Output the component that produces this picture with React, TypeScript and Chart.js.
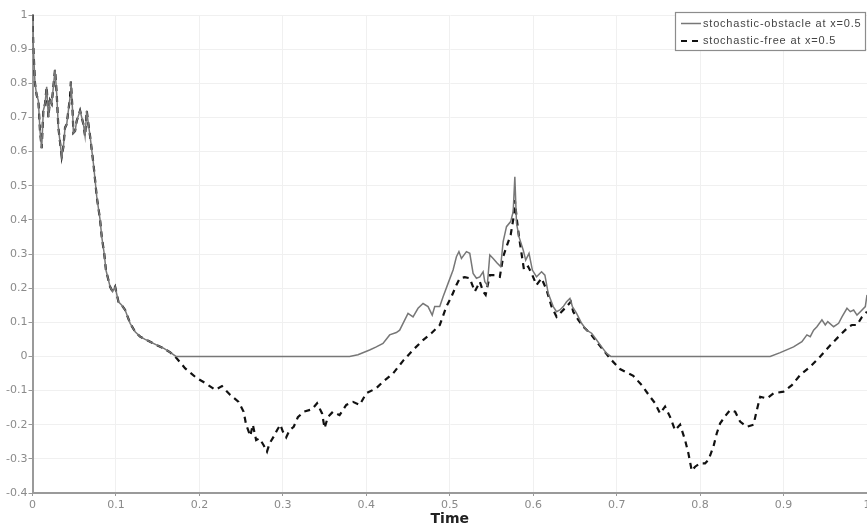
import React, { useEffect, useRef } from "react";
import { Chart, registerables } from "chart.js";

Chart.register(...registerables);

// Shared early part (both series coincide)
const sharedTime = [
  0, 0.001, 0.003, 0.005, 0.007, 0.009, 0.011, 0.013, 0.015, 0.017, 0.019, 0.021, 0.023, 0.025, 0.027,
  0.029, 0.031, 0.035, 0.037, 0.039, 0.041, 0.043, 0.045, 0.046, 0.048, 0.049, 0.051, 0.053, 0.057,
  0.059, 0.061, 0.063, 0.065, 0.067, 0.069, 0.071, 0.073, 0.077, 0.081, 0.083, 0.086, 0.088, 0.093,
  0.096, 0.099, 0.103, 0.107, 0.111, 0.117, 0.123, 0.129, 0.135, 0.141, 0.149, 0.157, 0.165,
];
const sharedValue = [
  1.0, 0.907, 0.8, 0.765, 0.75, 0.66, 0.61, 0.72, 0.74, 0.79, 0.7, 0.75, 0.74, 0.79, 0.84,
  0.77, 0.67, 0.585, 0.614, 0.67, 0.68, 0.72, 0.76, 0.805, 0.72, 0.655, 0.66, 0.69, 0.72,
  0.7, 0.68, 0.645, 0.72, 0.68, 0.645, 0.605, 0.565, 0.468, 0.4, 0.35, 0.3, 0.253, 0.204,
  0.19, 0.204, 0.16, 0.15, 0.136, 0.097, 0.072, 0.058, 0.05, 0.043, 0.033, 0.024, 0.012,
];

// stochastic-obstacle after the shared part
const obstacleTime = [
  0.172, 0.38, 0.39, 0.404, 0.412, 0.42, 0.428, 0.436, 0.44, 0.45, 0.456, 0.462, 0.468, 0.474, 0.479,
  0.482, 0.488, 0.492, 0.498, 0.504, 0.508, 0.511, 0.514, 0.52, 0.524, 0.528, 0.532, 0.536, 0.54,
  0.542, 0.545, 0.548, 0.552, 0.557, 0.561, 0.564, 0.568, 0.573, 0.576, 0.578, 0.58, 0.583, 0.588,
  0.591, 0.595, 0.599, 0.604, 0.61, 0.614, 0.618, 0.624, 0.628, 0.632, 0.636, 0.64, 0.644, 0.647,
  0.652, 0.658, 0.664, 0.67, 0.676, 0.682, 0.688, 0.693, 0.884, 0.896, 0.912, 0.922, 0.928, 0.932,
  0.936, 0.94, 0.946, 0.95, 0.953, 0.96, 0.966, 0.97, 0.976, 0.98, 0.984, 0.988, 0.992, 0.998, 1.0,
];
const obstacleValue = [
  0, 0, 0.005, 0.019, 0.028, 0.038, 0.063, 0.07, 0.077, 0.126, 0.116, 0.141, 0.155, 0.146, 0.121,
  0.146, 0.146, 0.175, 0.214, 0.253, 0.292, 0.307, 0.287, 0.307, 0.302, 0.243, 0.229, 0.233, 0.248,
  0.219, 0.209, 0.297, 0.287, 0.273, 0.263, 0.336, 0.38, 0.395, 0.424, 0.526, 0.39, 0.35, 0.312,
  0.282, 0.302, 0.253, 0.233, 0.248, 0.238, 0.185, 0.146, 0.131, 0.136, 0.146, 0.16, 0.17, 0.146,
  0.126, 0.097, 0.077, 0.068, 0.048, 0.028, 0.009, 0, 0, 0.011, 0.028, 0.043, 0.063, 0.058,
  0.077, 0.087, 0.107, 0.092, 0.102, 0.087, 0.097, 0.116, 0.141, 0.131, 0.136, 0.121, 0.131, 0.146, 0.18,
];

// stochastic-free after the shared part
const freeTime = [
  0.173, 0.183, 0.197, 0.207, 0.219, 0.227, 0.237, 0.247, 0.253, 0.256, 0.261, 0.264, 0.268, 0.272,
  0.277, 0.281, 0.284, 0.289, 0.293, 0.297, 0.3, 0.304, 0.308, 0.313, 0.318, 0.325, 0.335, 0.341,
  0.347, 0.35, 0.354, 0.36, 0.368, 0.376, 0.384, 0.392, 0.4, 0.412, 0.42, 0.432, 0.444, 0.456, 0.468,
  0.478, 0.488, 0.496, 0.502, 0.508, 0.512, 0.518, 0.524, 0.53, 0.533, 0.536, 0.54, 0.543, 0.548,
  0.554, 0.56, 0.564, 0.568, 0.573, 0.576, 0.578, 0.58, 0.583, 0.586, 0.589, 0.594, 0.599, 0.604,
  0.61, 0.616, 0.622, 0.628, 0.634, 0.64, 0.645, 0.648, 0.654, 0.66, 0.668, 0.676, 0.684, 0.692,
  0.704, 0.72, 0.73, 0.74, 0.746, 0.752, 0.758, 0.764, 0.77, 0.776, 0.782, 0.786, 0.79, 0.794, 0.8,
  0.806, 0.81, 0.816, 0.82, 0.824, 0.831, 0.836, 0.842, 0.848, 0.856, 0.864, 0.868, 0.872, 0.88,
  0.888, 0.9, 0.91, 0.92, 0.932, 0.944, 0.956, 0.968, 0.978, 0.982, 0.988, 0.994, 1.0,
];
const freeValue = [
  -0.006, -0.035, -0.064, -0.078, -0.098, -0.087, -0.113, -0.133, -0.162, -0.2, -0.233, -0.2, -0.245, -0.24,
  -0.26, -0.279, -0.255, -0.235, -0.216, -0.2, -0.22, -0.237, -0.216, -0.206, -0.178, -0.162, -0.155, -0.137,
  -0.167, -0.21, -0.177, -0.162, -0.172, -0.142, -0.133, -0.142, -0.108, -0.093, -0.074, -0.05, -0.013, 0.019, 0.048,
  0.068, 0.092, 0.146, 0.175, 0.209, 0.229, 0.232, 0.229, 0.19, 0.204, 0.219, 0.19, 0.18, 0.238,
  0.238, 0.233, 0.292, 0.321, 0.356, 0.4, 0.458, 0.409, 0.35, 0.302, 0.253, 0.263, 0.238, 0.209,
  0.229, 0.195, 0.146, 0.116, 0.131, 0.146, 0.16, 0.131, 0.107, 0.087, 0.068, 0.043, 0.019, -0.006,
  -0.037, -0.057, -0.084, -0.118, -0.137, -0.167, -0.147, -0.177, -0.216, -0.2, -0.245, -0.284, -0.335, -0.323, -0.313,
  -0.313, -0.303, -0.264, -0.225, -0.196, -0.172, -0.157, -0.162, -0.191, -0.206, -0.2, -0.157, -0.118, -0.123,
  -0.108, -0.103, -0.084, -0.054, -0.03, 0.0, 0.033, 0.063, 0.087, 0.092, 0.092, 0.116, 0.131,
];

const seriesLabels = ["stochastic-obstacle at x=0.5", "stochastic-free at x=0.5"];
const axisTitle = "Time";

function toPoints(ts: number[], vs: number[]) {
  return ts.map((t, i) => ({ x: t, y: vs[i] }));
}

function fmtTick(v: number | string) {
  const r = Math.round(Number(v) * 10) / 10;
  return (r === 0 ? 0 : r).toString();
}

const boxLegend = {
  id: "boxLegend",
  afterDraw(chart: any) {
    const ctx = chart.ctx as CanvasRenderingContext2D;
    ctx.save();
    const x0 = 675.5, y0 = 12.5, w = 190, h = 38;
    ctx.fillStyle = "#ffffff";
    ctx.fillRect(x0, y0, w, h);
    ctx.strokeStyle = "#8c8c8c";
    ctx.lineWidth = 1.2;
    ctx.strokeRect(x0, y0, w, h);
    chart.data.datasets.forEach((ds: any, i: number) => {
      const y = 23.5 + i * 17.5;
      ctx.setLineDash(ds.borderDash || []);
      ctx.strokeStyle = ds.borderColor;
      ctx.lineWidth = ds.borderWidth;
      ctx.beginPath();
      ctx.moveTo(681, y);
      ctx.lineTo(701, y);
      ctx.stroke();
      ctx.setLineDash([]);
      ctx.fillStyle = "#444444";
      ctx.font = '11px "Liberation Sans"';
      (ctx as any).letterSpacing = "0.8px";
      ctx.textBaseline = "middle";
      ctx.textAlign = "left";
      ctx.fillText(ds.label, 703, y);
    });
    ctx.restore();
  },
};

export default function App() {
  const ref = useRef<HTMLCanvasElement>(null);
  useEffect(() => {
    const obstacleData = toPoints(sharedTime.concat(obstacleTime), sharedValue.concat(obstacleValue));
    const freeData = toPoints(sharedTime.concat(freeTime), sharedValue.concat(freeValue));
    const chart = new Chart(ref.current!, {
      type: "line",
      data: {
        datasets: [
          {
            label: seriesLabels[0],
            data: obstacleData,
            borderColor: "#777777",
            borderWidth: 1.5,
            pointRadius: 0,
            tension: 0,
          },
          {
            label: seriesLabels[1],
            data: freeData,
            borderColor: "#111111",
            borderWidth: 2.2,
            borderDash: [6, 5],
            pointRadius: 0,
            tension: 0,
          },
        ],
      },
      options: {
        responsive: false,
        animation: false,
        layout: { padding: { top: 15, left: 0, right: 0, bottom: 0 } },
        plugins: { legend: { display: false }, tooltip: { enabled: false } },
        scales: {
          x: {
            type: "linear",
            min: 0,
            max: 1,
            ticks: {
              stepSize: 0.1,
              autoSkip: false,
              maxRotation: 0,
              color: "#8a8a8a",
              font: { family: "DejaVu Sans", size: 11 },
              padding: 3,
              callback: fmtTick,
            },
            grid: { color: "#f0f0f0", lineWidth: 1, tickLength: 3, tickColor: "#999999" },
            border: { color: "#9a9a9a", width: 2 },
            title: {
              display: true,
              text: axisTitle,
              color: "#222222",
              font: { family: "DejaVu Sans", size: 14, weight: "bold" },
              padding: { top: 0, bottom: 2 },
            },
            afterFit(scale: any) {
              scale.height = 37;
              scale.paddingLeft = 0;
              scale.paddingRight = 0;
            },
          },
          y: {
            type: "linear",
            min: -0.4,
            max: 1,
            ticks: {
              stepSize: 0.1,
              autoSkip: false,
              color: "#8a8a8a",
              font: { family: "DejaVu Sans", size: 11 },
              padding: 1,
              callback: fmtTick,
            },
            grid: { color: "#f0f0f0", lineWidth: 1, tickLength: 4, tickColor: "#999999" },
            border: { color: "#9a9a9a", width: 2 },
            afterFit(scale: any) {
              scale.width = 32.5;
              scale.paddingTop = 0;
              scale.paddingBottom = 0;
            },
          },
        },
      },
      plugins: [boxLegend],
    } as any);
    return () => chart.destroy();
  }, []);
  return (
    <div style={{ position: "fixed", left: 0, top: 0, width: 867, height: 530, background: "#ffffff" }}>
      <canvas ref={ref} width={867} height={530} style={{ width: 867, height: 530, display: "block" }} />
    </div>
  );
}
